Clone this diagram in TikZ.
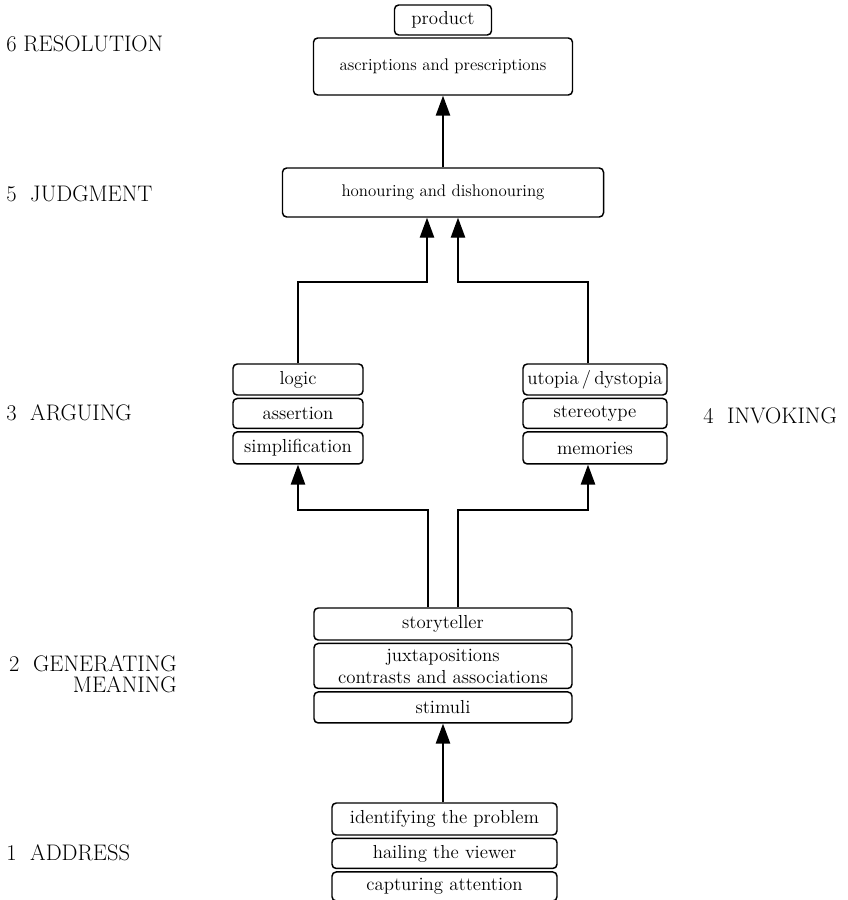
\documentclass[tikz,border=0pt]{standalone}
\usepackage{tikz}
\usetikzlibrary{arrows.meta, calc, positioning}
\tikzset{
  stagebox/.style   = {draw, rounded corners=3pt, line width=1.05pt, inner sep=0pt,
                       font=\fontsize{13.4}{15.6}\selectfont, align=center},
  widebox/.style    = {stagebox, font=\fontsize{12}{14}\selectfont},
  stagelabel/.style = {font=\fontsize{16}{12.8}\selectfont, inner sep=0pt},
  flowline/.style   = {line width=1.05pt},
  flowarrow/.style  = {flowline, -{Triangle[length=5mm, width=3.6mm]}},
}

\begin{document}
\begin{tikzpicture}[x=0.25mm, y=-0.25mm]
  \useasboundingbox (0,0) rectangle (848,900);
  % stage labels
  \node[stagelabel, anchor=base west] (lres) at (6,52) {6 RESOLUTION};
  \node[stagelabel, anchor=base west] (ljud) at (6,202) {5~~JUDGMENT};
  \node[stagelabel, anchor=base west] (larg) at (6,420) {3~~ARGUING};
  \node[stagelabel, anchor=base west] (linv) at (703,423) {4~~INVOKING};
  \node[stagelabel, anchor=north east, align=right] (lgen) at (177,655) {2~~GENERATING\\[2.5pt]MEANING};
  \node[stagelabel, anchor=base west] (ladd) at (6,860) {1~~ADDRESS};
  % resolution
  \node[stagebox, minimum width=24.25mm, minimum height=7.5mm] (product) at (443,20) {product};
  \node[widebox, minimum width=64.75mm, minimum height=14.25mm] (ascr) at (443,66.5) {ascriptions and prescriptions};
  % judgment
  \node[widebox, minimum width=80.25mm, minimum height=12.25mm] (honour) at (443,192.5) {honouring and dishonouring};
  % arguing
  \node[stagebox, minimum width=32.5mm, minimum height=7.75mm] (logic) at (298,379.5) {logic};
  \node[stagebox, minimum width=32.5mm, minimum height=7.5mm, below=0.5mm of logic] (assert) {assertion};
  \node[stagebox, minimum width=32.5mm, minimum height=8mm, below=0.5mm of assert] (simpl) {simplification};
  % invoking
  \node[stagebox, minimum width=36mm, minimum height=7.75mm] (utopia) at (595,379.5) {utopia\,/\,dystopia};
  \node[stagebox, minimum width=36mm, minimum height=7.5mm, below=0.5mm of utopia] (stereo) {stereotype};
  \node[stagebox, minimum width=36mm, minimum height=8mm, below=0.5mm of stereo] (memo) {memories};
  % generating meaning
  \node[stagebox, minimum width=64.5mm, minimum height=8mm] (story) at (443,624) {storyteller};
  \node[stagebox, minimum width=64.5mm, minimum height=11.25mm, below=0.5mm of story] (juxta) {juxtapositions\\contrasts and associations};
  \node[stagebox, minimum width=64.5mm, minimum height=7.75mm, below=0.5mm of juxta] (stimuli) {stimuli};
  % address
  \node[stagebox, minimum width=56.25mm, minimum height=8mm] (ident) at (444.5,819) {identifying the problem};
  \node[stagebox, minimum width=56.25mm, minimum height=7.5mm, below=0.5mm of ident] (hail) {hailing the viewer};
  \node[stagebox, minimum width=56.25mm, minimum height=7.25mm, below=0.5mm of hail] (capture) {capturing attention};
  % connectors
  \coordinate (upl) at (427,282);
  \coordinate (upr) at (458,282);
  \coordinate (dnl) at (428,510);
  \coordinate (dnr) at (458,510);
  \draw[flowarrow] (stimuli.south |- ident.north) -- (stimuli.south);
  \draw[flowarrow] (dnl |- story.north) -- (dnl) -| (simpl.south);
  \draw[flowarrow] (dnr |- story.north) -- (dnr) -| ($(memo.south)+(-7,0)$);
  \draw[flowarrow] (logic.north) |- (upl) -- (upl |- honour.south);
  \draw[flowarrow] ($(utopia.north)+(-7,0)$) |- (upr) -- (upr |- honour.south);
  \draw[flowarrow] (honour.north) -- (ascr.south);
\end{tikzpicture}
\end{document}
